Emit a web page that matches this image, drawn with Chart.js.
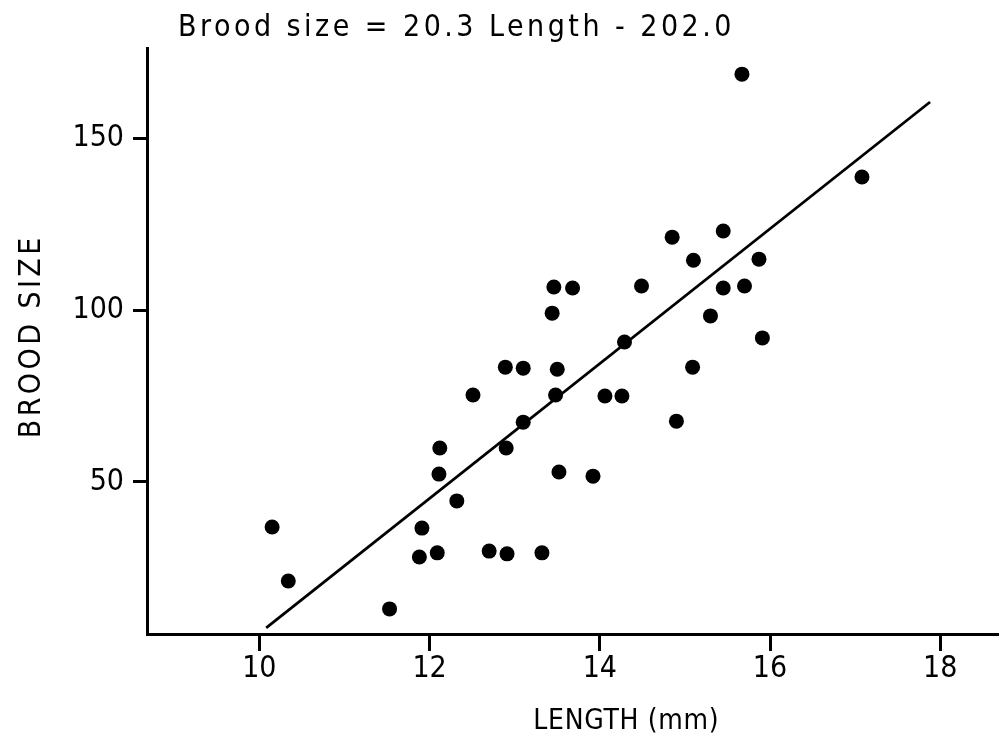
<!DOCTYPE html>
<html>
<head>
<meta charset="utf-8">
<script src="https://cdn.jsdelivr.net/npm/chart.js@4/dist/chart.umd.min.js"></script>
<style>
  html, body { margin: 0; padding: 0; background: #ffffff; }
  #wrap { width: 999px; height: 744px; }
</style>
</head>
<body>
<div id="wrap"><canvas id="c" width="999" height="744"></canvas></div>
<script>
// ---- text ----
const titleText = "Brood size = 20.3 Length - 202.0";
const xAxisTitle = "LENGTH (mm)";
const yAxisTitle = "BROOD SIZE";

// ---- tick labels ----
const xTickValues = [10, 12, 14, 16, 18];
const yTickValues = [50, 100, 150];

const lengthMm = [10.15, 10.34, 11.53, 11.88, 11.91, 12.09, 12.11, 12.12, 12.32, 12.51,
                  12.70, 12.89, 12.90, 12.91, 13.10, 13.10, 13.32, 13.44, 13.46, 13.50,
                  13.48, 13.52, 13.68, 13.92, 14.06, 14.26, 14.29, 14.49, 14.85, 14.90,
                  15.09, 15.10, 15.30, 15.45, 15.45, 15.70, 15.67, 15.87, 15.91, 17.08];
const broodSize = [36.9, 21.2, 13.1, 28.2, 36.6, 29.4, 52.3, 59.9, 44.5, 75.3,
                   29.9, 83.4, 59.9, 29.1, 83.1, 67.4, 29.4, 99.1, 106.7, 82.8,
                   75.3, 52.9, 106.4, 51.7, 75.0, 75.0, 90.7, 107.0, 121.2, 67.7,
                   83.4, 114.5, 98.3, 123.0, 106.4, 107.0, 168.6, 114.8, 91.9, 138.7];

// ---- fitted regression line end points ----
const fitLength = [10.08, 17.88];
const fitBrood = [7.6, 160.5];

const points = lengthMm.map((x, i) => ({ x: x, y: broodSize[i] }));
const fitLine = fitLength.map((x, i) => ({ x: x, y: fitBrood[i] }));

const FONT = '"DejaVu Sans Condensed", "Liberation Sans Narrow", "DejaVu Sans", sans-serif';

function drawSpaced(ctx, text, x, y, size, targetWidth, align) {
  ctx.font = size + 'px ' + FONT;
  ctx.letterSpacing = '0px';
  const w = ctx.measureText(text).width;
  const n = text.length;
  const sp = Math.max(0, (targetWidth - w) / n);
  ctx.letterSpacing = sp.toFixed(2) + 'px';
  const tw = w + sp * n;
  let sx = x;
  if (align === 'center') sx = x - tw / 2 + sp / 2;
  ctx.textAlign = 'left';
  ctx.fillText(text, sx, y);
  ctx.letterSpacing = '0px';
}

const textPlugin = {
  id: 'textPlugin',
  afterDraw(chart) {
    const ctx = chart.ctx;
    ctx.save();
    ctx.fillStyle = '#000';
    ctx.textBaseline = 'middle';
    // main title
    drawSpaced(ctx, titleText, 178, 28, 30, 557, 'left');
    // x axis title
    drawSpaced(ctx, xAxisTitle, 626, 722, 28, 186, 'center');
    // y axis title (vertical)
    ctx.translate(32, 338);
    ctx.rotate(-Math.PI / 2);
    drawSpaced(ctx, yAxisTitle, 0, 0, 30, 204, 'center');
    ctx.restore();
  }
};

new Chart(document.getElementById('c'), {
  type: 'scatter',
  data: {
    datasets: [
      {
        type: 'scatter',
        data: points,
        backgroundColor: '#000',
        borderColor: '#000',
        pointRadius: 7.5,
        pointHoverRadius: 7.5,
        borderWidth: 0,
        order: 1
      },
      {
        type: 'line',
        data: fitLine,
        borderColor: '#000',
        borderWidth: 2.8,
        pointRadius: 0,
        fill: false,
        tension: 0,
        order: 2
      }
    ]
  },
  options: {
    responsive: false,
    animation: false,
    devicePixelRatio: 1,
    layout: { autoPadding: false, padding: { left: 0, right: 0, top: 48, bottom: 0 } },
    plugins: {
      legend: { display: false },
      title: { display: false },
      tooltip: { enabled: false }
    },
    scales: {
      x: {
        type: 'linear',
        min: 8.68,
        max: 18.69,
        afterBuildTicks: (s) => { s.ticks = xTickValues.map(v => ({ value: v })); },
        afterFit: (s) => { s.height = 110; },
        border: { display: true, color: '#000', width: 3 },
        grid: { drawOnChartArea: false, drawTicks: true, tickLength: 17, tickWidth: 3, tickColor: '#000' },
        ticks: { color: '#000', font: { family: FONT, size: 30 }, padding: 0, maxRotation: 0, autoSkip: false }
      },
      y: {
        type: 'linear',
        min: 5.8,
        max: 176.2,
        afterBuildTicks: (s) => { s.ticks = yTickValues.map(v => ({ value: v })); },
        afterFit: (s) => { s.width = 147; },
        border: { display: true, color: '#000', width: 3 },
        grid: { drawOnChartArea: false, drawTicks: true, tickLength: 14, tickWidth: 3, tickColor: '#000' },
        ticks: { color: '#000', font: { family: FONT, size: 30 }, padding: 9, autoSkip: false }
      }
    }
  },
  plugins: [textPlugin]
});
</script>
</body>
</html>
